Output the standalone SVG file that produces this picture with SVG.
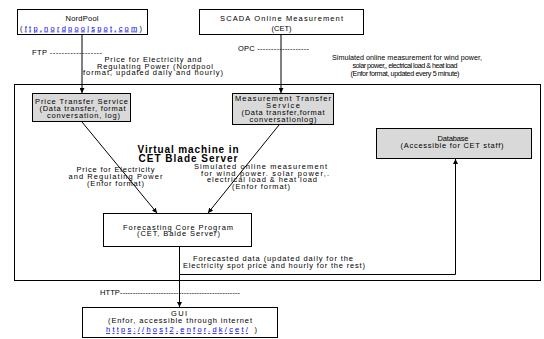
<svg xmlns="http://www.w3.org/2000/svg" width="544" height="339" viewBox="0 0 544 339">
<defs>
<marker id="ah" viewBox="0 0 10 10" refX="10" refY="5" markerWidth="5" markerHeight="5" orient="auto" markerUnits="userSpaceOnUse">
<path d="M0,0 L10,5 L0,10 z" fill="#000"/>
</marker>
<style>
text{font-family:"Liberation Sans",Arial,sans-serif;font-size:7.5px;fill:#000}
.c{text-anchor:middle}
.s{font-size:7.2px}
.b{font-weight:bold;font-size:10px}
.lnk{fill:#0000ee;text-decoration:underline}
.box{fill:#fff;stroke:#000;stroke-width:1}
.g{fill:#d9d9d9;stroke:#000;stroke-width:1}
.con{fill:none;stroke:#000;stroke-width:1}
</style>
</defs>
<rect width="544" height="339" fill="#fff"/>
<g id="vm">
<rect class="box" x="14.5" y="84.5" width="526" height="196"/>
<text class="c b" x="188" y="153" textLength="101">Virtual machine in</text>
<text class="c b" x="188" y="162" textLength="99">CET Blade Server</text>
</g>
<g id="nordpool">
<rect class="box" x="17.5" y="9.5" width="130" height="25"/>
<text class="c" x="82" y="21" textLength="33">NordPool</text>
<text class="c" x="81" y="30.5" textLength="122">(<tspan class="lnk">ftp.nordpoolspot.com</tspan>)</text>
</g>
<g id="scada">
<rect class="box" x="199.5" y="9.5" width="164" height="25"/>
<text class="c" x="281.5" y="21" textLength="123">SCADA Online Measurement</text>
<text class="c" x="281.5" y="30.5" textLength="20">(CET)</text>
</g>
<g id="price-transfer">
<rect class="g" x="32.5" y="93.5" width="98" height="28"/>
<text class="c" x="81.5" y="104" textLength="93">Price Transfer Service</text>
<text class="c" x="82.5" y="111" textLength="86">(Data transfer, format</text>
<text class="c" x="83.5" y="117.5" textLength="73">conversation, log)</text>
</g>
<g id="measurement-transfer">
<rect class="g" x="232.5" y="93.5" width="101" height="31"/>
<text class="c" x="283" y="100.5" textLength="96">Measurement Transfer</text>
<text class="c" x="283" y="107.5" textLength="34">Service</text>
<text class="c" x="283" y="114.5" textLength="83">(Data transfer,format</text>
<text class="c" x="283" y="121.5" textLength="67">conversationlog)</text>
</g>
<g id="database">
<rect class="g" x="376.5" y="128.5" width="155" height="30"/>
<text class="c" x="453" y="141" textLength="31">Database</text>
<text class="c" x="452" y="148" textLength="103">(Accessible for CET staff)</text>
</g>
<g id="forecast">
<rect class="box" x="103.5" y="213.5" width="148" height="33"/>
<text class="c" x="178" y="229.5" textLength="110">Forecasting Core Program</text>
<text class="c" x="178.5" y="236" textLength="83">(CET, Balde Server)</text>
</g>
<g id="gui">
<rect class="box" x="82.5" y="307.5" width="195" height="30"/>
<text class="c" x="179" y="315.5" textLength="16">GUI</text>
<text class="c" x="180" y="323" textLength="144">(Enfor, accessible through internet</text>
<text class="c" x="181.5" y="332" textLength="151"><tspan class="lnk">https://host2.enfor.dk/cet/</tspan> )</text>
</g>
<g id="connectors">
<line class="con" x1="82" y1="34" x2="82" y2="93" marker-end="url(#ah)"/>
<line class="con" x1="281" y1="34" x2="281" y2="93" marker-end="url(#ah)"/>
<line class="con" x1="82" y1="122" x2="157" y2="213" marker-end="url(#ah)"/>
<line class="con" x1="279" y1="125" x2="208" y2="213" marker-end="url(#ah)"/>
<line class="con" x1="179.5" y1="247" x2="179.5" y2="307" marker-end="url(#ah)"/>
<polyline class="con" points="179.5,274.5 455.5,274.5 455.5,159" marker-end="url(#ah)"/>
</g>
<g id="labels">
<text x="32" y="55" textLength="70">FTP  ------------------</text>
<text class="c" x="153" y="61.5" textLength="97">Price for Electricity and</text>
<text class="c" x="155" y="68.5" textLength="116">Regulating Power (Nordpool</text>
<text class="c" x="153" y="75" textLength="140">format, updated daily and hourly)</text>
<text x="238" y="51" textLength="71">OPC -------------------</text>
<text class="c s" x="407" y="60" textLength="150">Simulated online measurement for wind power,</text>
<text class="c s" x="405" y="68" textLength="105">solar power,, electrical load &amp; heat load</text>
<text class="c s" x="405" y="76" textLength="109">(Enfor format, updated every 5 minute)</text>
<text class="c" x="115.5" y="172" textLength="78">Price for Electricity</text>
<text class="c" x="115.5" y="179" textLength="94">and Regulating Power</text>
<text class="c" x="115.5" y="185.5" textLength="57">(Enfor format)</text>
<text class="c" x="260.5" y="169" textLength="133">Simulated online measurement</text>
<text class="c" x="265" y="175.5" textLength="128">for wind power. solar power,.</text>
<text class="c" x="262" y="182" textLength="110">electrical load &amp; heat load</text>
<text class="c" x="261" y="188.5" textLength="58">(Enfor format)</text>
<text class="c" x="273" y="261" textLength="160">Forecasted data (updated daily for the</text>
<text class="c" x="274" y="268" textLength="182">Electricity spot price and hourly for the rest)</text>
<text x="100" y="295" textLength="140">HTTP-----------------------------------------------</text>
</g>
</svg>
